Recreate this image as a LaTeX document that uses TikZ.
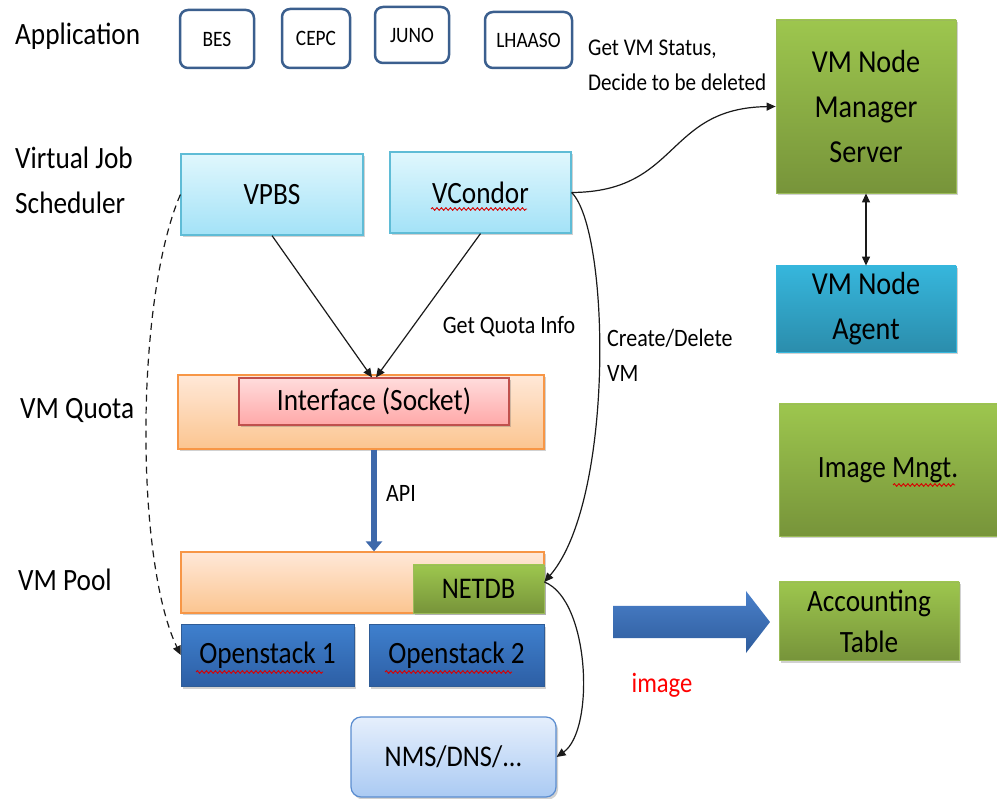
\documentclass[tikz,border=0pt]{standalone}
\usepackage{fontspec}
\setmainfont{Carlito}[FakeStretch=0.88]
\usetikzlibrary{shadows,decorations.pathmorphing,arrows.meta,calc}
\definecolor{appblue}{HTML}{3B5F8E}
\definecolor{schedtop}{HTML}{E0F7FD}
\definecolor{schedbot}{HTML}{A3E2F7}
\definecolor{schedline}{HTML}{5FBCD6}
\definecolor{oratop}{HTML}{FFE8D8}
\definecolor{orabot}{HTML}{FBC590}
\definecolor{oraline}{HTML}{F79646}
\definecolor{pinktop}{HTML}{FFDCDC}
\definecolor{pinkbot}{HTML}{FFA8A8}
\definecolor{pinkline}{HTML}{C0504D}
\definecolor{grntop}{HTML}{9DC64E}
\definecolor{grnbot}{HTML}{77943A}
\definecolor{grnline}{HTML}{9BBB59}
\definecolor{tealtop}{HTML}{36B6DC}
\definecolor{tealbot}{HTML}{2B8DAC}
\definecolor{ostop}{HTML}{3F80CE}
\definecolor{osbot}{HTML}{2D5FA5}
\definecolor{osline}{HTML}{2F5C96}
\definecolor{nmstop}{HTML}{E6EFFC}
\definecolor{nmsbot}{HTML}{AACAF3}
\definecolor{nmsline}{HTML}{5B8DD0}
\definecolor{apiblue}{HTML}{3D68AA}
\definecolor{bigtop}{HTML}{4A80CA}
\definecolor{bigbot}{HTML}{2E5C9C}
\definecolor{conn}{HTML}{1A1A1A}
\newcommand\fsz[2]{\fontsize{#1}{#2}\selectfont}
\begin{document}
\begin{tikzpicture}[x=1pt,y=-1pt,
  shdw/.style={drop shadow={shadow xshift=2pt,shadow yshift=-2.5pt,opacity=0.3,fill=black!60}},
  lbl/.style={inner sep=0pt,anchor=west,align=left,font=\fsz{31}{45}},
  note/.style={inner sep=0pt,align=left,font=\fsz{25}{35}},
  appbox/.style={draw=appblue,line width=2.5pt,rounded corners=8pt,fill=white,inner sep=0pt,font=\fsz{22}{26}},
  schedbox/.style={shdw,draw=schedline,line width=1.2pt,top color=schedtop,bottom color=schedbot,inner sep=0pt,font=\fsz{31}{40}},
  orabox/.style={shdw,draw=oraline,line width=1.2pt,top color=oratop,bottom color=orabot,inner sep=0pt},
  pinkbox/.style={shdw,draw=pinkline,line width=1.2pt,top color=pinktop,bottom color=pinkbot,inner sep=0pt,font=\fsz{31}{40}},
  grnbox/.style={shdw,draw=grnline,line width=0.8pt,top color=grntop,bottom color=grnbot,inner sep=0pt,align=center,font=\fsz{32}{45}},
  tealbox/.style={shdw,draw=tealtop,line width=0.8pt,top color=tealtop,bottom color=tealbot,inner sep=0pt,align=center,font=\fsz{32}{45}},
  osbox/.style={shdw,draw=osline,line width=0.6pt,top color=ostop,bottom color=osbot,inner sep=0pt,font=\fsz{31}{40}},
  nmsbox/.style={shdw,draw=nmsline,line width=1.2pt,rounded corners=10pt,top color=nmstop,bottom color=nmsbot,inner sep=0pt,font=\fsz{30}{40}},
  arr/.style={draw=conn,line width=1.2pt,-{Triangle[length=9pt,width=8pt]}},
  squig/.style={draw=red!85!black,line width=0.9pt,decorate,decoration={snake,amplitude=1.3pt,segment length=4.5pt}}
]
\useasboundingbox (0,0) rectangle (997,799);
% left labels
\node[lbl] (lapp) at (15,36) {Application};
\node[lbl] (lvjs) at (15,180) {Virtual Job\\Scheduler};
\node[lbl] (lquota) at (20,410) {VM Quota};
\node[lbl] (lpool) at (18,580) {VM Pool};
% application boxes
\node[appbox,minimum width=74pt,minimum height=58pt] (bes) at (217,39) {BES};
\node[appbox,minimum width=68pt,minimum height=59pt] (cepc) at (316,38.5) {CEPC};
\node[appbox,minimum width=74pt,minimum height=56pt] (juno) at (412,35) {JUNO};
\node[appbox,minimum width=87pt,minimum height=56pt] (lhaaso) at (528.5,40) {LHAASO};
% schedulers
\node[schedbox,minimum width=182pt,minimum height=81pt] (vpbs) at (272,194.5) {VPBS};
\node[schedbox,minimum width=181pt,minimum height=81pt] (vcondor) at (480.5,192.5) {VCondor};
% quota
\node[orabox,minimum width=366pt,minimum height=74pt] (quota) at (361,412) {};
\node[pinkbox,minimum width=270pt,minimum height=47pt] (intf) at (374,401.5) {Interface (Socket)};
% pool
\node[orabox,minimum width=363pt,minimum height=61pt] (pool) at (362.5,582.5) {};
\node[grnbox,minimum width=131pt,minimum height=48pt,font=\fsz{30}{40}] (netdb) at (478.5,589) {NETDB};
\node[osbox,minimum width=173pt,minimum height=62pt] (os1) at (267.5,655) {Openstack 1};
\node[osbox,minimum width=175pt,minimum height=62pt] (os2) at (456.5,655) {Openstack 2};
\node[nmsbox,minimum width=205pt,minimum height=80pt] (nms) at (453.5,757) {NMS/DNS/...};
% right column
\node[grnbox,minimum width=180pt,minimum height=173pt] (mgr) at (866,106.5) {VM Node\\Manager\\Server};
\node[tealbox,minimum width=180pt,minimum height=86pt] (agent) at (866,309) {VM Node\\Agent};
\node[grnbox,minimum width=218pt,minimum height=132pt,font=\fsz{31}{40}] (img) at (888,470) {Image Mngt.};
\node[grnbox,minimum width=180pt,minimum height=78pt,font=\fsz{31}{41}] (acct) at (869,621) {Accounting\\Table};
% notes
\node[note,anchor=west,font=\fsz{24}{35}] (getvm) at (588,65.5) {Get VM Status,\\Decide to be deleted};
\node[note] (gqi) at (509,327) {Get Quota Info};
\node[note,anchor=west] (cdvm) at (607,355.5) {Create/Delete\\VM};
\node[note] (api) at (401,493) {API};
\node[inner sep=0pt,text=red,font=\fsz{28}{34}] (imgtxt) at (662,685) {image};
% spell-check squiggles
\draw[squig] (431,209) -- (527,209);
\draw[squig] (196,672) -- (323,672);
\draw[squig] (385,672) -- (512,672);
\draw[squig] (893,485) -- (955,485);
% big blue arrow
\shade[top color=bigtop,bottom color=bigbot] (613,606) -- (746,606) -- (746,591) -- (770,622) -- (746,653) -- (746,638) -- (613,638) -- cycle;
% connectors
\coordinate (nj) at ([yshift=7pt]netdb.east);
\draw[arr] (vpbs.south) -- ([xshift=-2pt]intf.north);
\draw[arr] (vcondor.south) -- ([xshift=2pt]intf.north);
\draw[arr] (vcondor.east) .. controls (680,192) and (665,108) .. (mgr.west);
\draw[arr] (vcondor.east) .. controls (610,230) and (615,500) .. (nj);
\draw[arr] (nj) .. controls (590,600) and (595,730) .. (nms.east);
\draw[draw=conn,line width=1.2pt,{Triangle[length=9pt,width=8pt]}-{Triangle[length=9pt,width=8pt]}] (mgr.south) -- (agent.north);
\draw[draw=conn,line width=1.2pt,dash pattern=on 7pt off 5pt,-{Triangle[length=9pt,width=8pt]}] (vpbs.west) .. controls (135,300) and (135,560) .. (os1.west);
\draw[draw=apiblue,line width=6pt,-{Triangle[length=10pt,width=16pt]}] (intf.south |- quota.south) -- (intf.south |- pool.north);
\end{tikzpicture}
\end{document}
